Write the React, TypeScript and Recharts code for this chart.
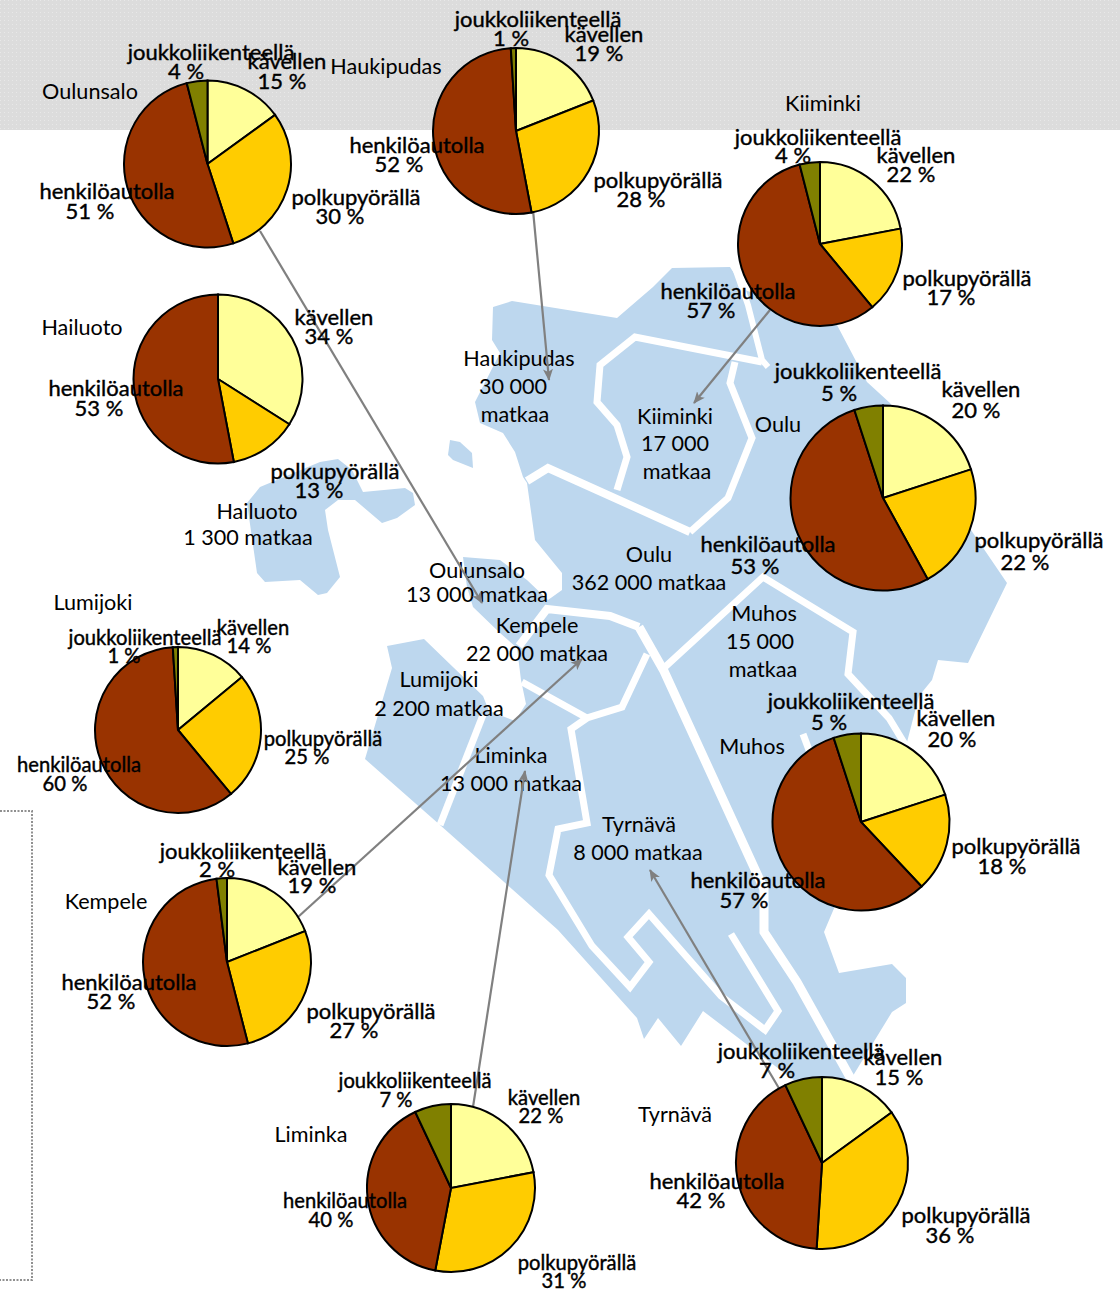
import { Cell, Pie, PieChart } from "recharts";

const modes = ["kävellen", "polkupyörällä", "henkilöautolla", "joukkoliikenteellä"];
const modeColors = ["#FFFF99", "#FFCC00", "#993300", "#808000"];

const oulunsalo = [15, 30, 51, 4];
const haukipudas = [19, 28, 52, 1];
const kiiminki = [22, 17, 57, 4];
const hailuoto = [34, 13, 53, 0];
const oulu = [20, 22, 53, 5];
const lumijoki = [14, 25, 60, 1];
const muhos = [20, 18, 57, 5];
const kempele = [19, 27, 52, 2];
const liminka = [22, 31, 40, 7];
const tyrnava = [15, 36, 42, 7];

const FONT = "Lato, Carlito, Calibri, sans-serif";
const TEXT_DY = -1;

// x1, y1 = mode name, x2, y2 = percentage, in the order of modes
type Place = [number, number, number, number];
type PieSpot = {
  key: string;
  values: number[];
  cx: number;
  cy: number;
  r: number;
  size: number;
  places: Place[];
};

const pies: PieSpot[] = [
  { key: "oulunsalo", values: oulunsalo, cx: 207.5, cy: 164, r: 83.5, size: 22,
    places: [[287, 61, 282, 81], [356, 197, 340, 216], [107, 191, 90, 211], [211, 52, 186, 71]] },
  { key: "haukipudas", values: haukipudas, cx: 516, cy: 131, r: 83, size: 22,
    places: [[604, 34, 599, 53], [658, 180, 641, 199], [417, 145, 399, 164], [538, 19, 511, 38]] },
  { key: "kiiminki", values: kiiminki, cx: 820, cy: 244, r: 82, size: 22,
    places: [[916, 155, 911, 174], [967, 278, 951, 297], [728, 291, 711, 310], [818, 137, 793, 155]] },
  { key: "hailuoto", values: hailuoto, cx: 218, cy: 379, r: 84.5, size: 22,
    places: [[334, 317, 329, 336], [335, 471, 319, 490], [116, 388, 99, 408], [0, 0, 0, 0]] },
  { key: "oulu", values: oulu, cx: 883, cy: 498, r: 92.5, size: 22,
    places: [[981, 389, 976, 410], [1039, 540, 1025, 562], [768, 544, 755, 566], [858, 371, 839, 393]] },
  { key: "lumijoki", values: lumijoki, cx: 178, cy: 730, r: 83, size: 20.2,
    places: [[253, 628, 249, 646], [323, 739, 307, 757], [79, 765, 65, 784], [145, 638, 124, 656]] },
  { key: "muhos", values: muhos, cx: 861, cy: 822, r: 88.5, size: 22,
    places: [[956, 718, 952, 739], [1016, 846, 1002, 866], [758, 880, 744, 900], [851, 701, 829, 722]] },
  { key: "kempele", values: kempele, cx: 227, cy: 962, r: 84, size: 22,
    places: [[317, 867, 312, 885], [371, 1011, 354, 1030], [129, 982, 111, 1001], [243, 851, 217, 869]] },
  { key: "liminka", values: liminka, cx: 451, cy: 1188, r: 84, size: 20.2,
    places: [[544, 1098, 541, 1116], [577, 1263, 564, 1281], [345, 1201, 331, 1220], [415, 1081, 396, 1100]] },
  { key: "tyrnava", values: tyrnava, cx: 822, cy: 1163, r: 86, size: 22,
    places: [[903, 1057, 899, 1077], [966, 1215, 950, 1235], [717, 1181, 701, 1200], [801, 1051, 777, 1070]] },
];

const pieNames: [string, number, number][] = [
  ["Oulunsalo", 90, 92],
  ["Haukipudas", 386, 67],
  ["Kiiminki", 823, 104],
  ["Hailuoto", 82, 328],
  ["Lumijoki", 93, 603],
  ["Kempele", 106, 902],
  ["Liminka", 311, 1135],
  ["Tyrnävä", 675, 1115],
  ["Muhos", 752, 747],
  ["Oulu", 778, 425],
];

const mapTexts: [string, number, number][] = [
  ["Haukipudas", 519, 359],
  ["30 000", 513, 387],
  ["matkaa", 515, 415],
  ["Kiiminki", 675, 417],
  ["17 000", 675, 444],
  ["matkaa", 677, 472],
  ["Hailuoto", 257, 512],
  ["1 300 matkaa", 248, 538],
  ["Oulunsalo", 477, 571],
  ["13 000 matkaa", 477, 595],
  ["Kempele", 537, 626],
  ["22 000 matkaa", 537, 654],
  ["Lumijoki", 439, 680],
  ["2 200 matkaa", 439, 709],
  ["Liminka", 511, 756],
  ["13 000 matkaa", 511, 784],
  ["Tyrnävä", 639, 825],
  ["8 000 matkaa", 638, 853],
  ["Oulu", 649, 555],
  ["362 000 matkaa", 649, 583],
  ["Muhos", 764, 614],
  ["15 000", 760, 642],
  ["matkaa", 763, 670],
];

const arrows = [
  "260,231 482,603",
  "533,210 549,380",
  "770,310 694,403",
  "298,917 582,659",
  "473,1107 525,771",
  "780,1090 650,870",
];

// map shapes
const mainland =
  "493,307 512,301 617,318 653,287 672,268 730,267 745,290 837,325 867,382 890,403 973,533 1007,583 968,663 938,660 932,680 919,696 906,746 880,800 824,932 839,973 892,964 906,978 906,1003 892,1012 851,1079 800,1085 703,1011 681,1046 658,1018 644,1039 637,1018 558,930 440,825 365,759 392,668 387,646 424,639 483,696 489,711 515,721 526,704 521,680 517,648 500,633 473,607 467,587 463,557 500,560 527,580 548,600 562,590 562,573 535,540 527,483 523,477 515,452 503,433 480,423 475,402 500,353 492,340";
const hailuotoIsland =
  "338,459 320,462 260,487 247,503 257,573 265,582 300,580 318,595 327,593 340,577 328,530 325,510 338,500 355,500 382,523 397,518 415,505 413,493 405,488 363,492 352,470";
const smallIsland = "450,440 460,442 472,453 473,468 453,460 448,455";

const borders: [string, number][] = [
  ["527,481 548,468 690,532", 8],
  ["690,532 728,498 752,438 730,383 735,362", 7],
  ["617,490 627,457 617,425 597,402 600,365 635,337 762,362", 7],
  ["735,268 748,305 762,360 768,367", 6],
  ["665,667 763,577 853,632 848,674 889,718 906,746", 7],
  ["803,734 821,782", 7],
  ["639,627 664,671 764,889 764,932 797,982 851,1079", 9],
  ["731,934 778,1011 765,1030 721,996 649,914 628,937 649,962 630,987 592,946 549,875 558,829 587,823 571,729 587,718 622,707 647,654", 7],
  ["519,646 547,609 610,616 639,627", 8],
  ["522,682 587,718", 7],
  ["483,715 440,825", 7],
];

function MapLayer() {
  return (
    <svg width={1120} height={1289} style={{ position: "absolute", left: 0, top: 0 }}>
      <defs>
        <pattern id="band" width={4} height={4} patternUnits="userSpaceOnUse">
          <rect width={4} height={4} fill="#dcdcdc" />
          <rect width={1} height={1} fill="#e8e8e8" />
        </pattern>
        <marker id="head" markerWidth={14} markerHeight={12} refX={11} refY={6} orient="auto" markerUnits="userSpaceOnUse">
          <path d="M0,1 L12,6 L0,11 L3,6 Z" fill="#808080" />
        </marker>
      </defs>
      <rect x={0} y={0} width={1120} height={130} fill="url(#band)" />
      <polyline points="0,811 32,811 32,1280 0,1280" fill="none" stroke="#909090" strokeWidth={2} strokeDasharray="2 1.5" />
      <polygon points={mainland} fill="#BDD7EE" />
      <polygon points={hailuotoIsland} fill="#BDD7EE" />
      <polygon points={smallIsland} fill="#BDD7EE" />
      {borders.map(([points, w]) => (
        <polyline key={points} points={points} fill="none" stroke="#ffffff" strokeWidth={w} strokeLinejoin="miter" />
      ))}
      {mapTexts.map(([text, x, y]) => (
        <text key={text + x} x={x} y={y + TEXT_DY} textAnchor="middle" dominantBaseline="central" fontFamily={FONT} fontSize={21.6} fill="#000">
          {text}
        </text>
      ))}
      {pieNames.map(([text, x, y]) => (
        <text key={text} x={x} y={y + TEXT_DY} textAnchor="middle" dominantBaseline="central" fontFamily={FONT} fontSize={21.6} fill="#000">
          {text}
        </text>
      ))}
      {arrows.map((points) => (
        <polyline key={points} points={points} fill="none" stroke="#808080" strokeWidth={2.2} markerEnd="url(#head)" />
      ))}
    </svg>
  );
}

function sliceLabel(spot: PieSpot) {
  return (props: any) => {
    const i = props.index;
    if (!spot.values[i]) return <g />;
    const [x1, y1, x2, y2] = spot.places[i];
    const common = {
      textAnchor: "middle" as const,
      dominantBaseline: "central" as const,
      fontFamily: FONT,
      fontSize: spot.size,
      fill: "#000",
      stroke: "#000",
      strokeWidth: 0.4,
    };
    return (
      <g>
        <text x={x1} y={y1 + TEXT_DY} {...common}>{modes[i]}</text>
        <text x={x2} y={y2 + TEXT_DY} {...common}>{`${spot.values[i]} %`}</text>
      </g>
    );
  };
}

export default function App() {
  return (
    <div style={{ position: "absolute", left: 0, top: 0, width: 1120, height: 1289, background: "#fff", overflow: "hidden" }}>
      <MapLayer />
      <div style={{ position: "absolute", left: 0, top: 0 }}>
        <PieChart width={1120} height={1289} margin={{ top: 0, right: 0, bottom: 0, left: 0 }}>
          {pies.map((spot) => (
            <Pie
              key={spot.key}
              data={spot.values.map((value, i) => ({ name: modes[i], value }))}
              dataKey="value"
              cx={spot.cx}
              cy={spot.cy}
              outerRadius={spot.r}
              startAngle={90}
              endAngle={-270}
              stroke="#000"
              strokeWidth={2}
              labelLine={false}
              label={sliceLabel(spot)}
              isAnimationActive={false}
            >
              {spot.values.map((_, i) => (
                <Cell key={modes[i]} fill={modeColors[i]} />
              ))}
            </Pie>
          ))}
        </PieChart>
      </div>
    </div>
  );
}
